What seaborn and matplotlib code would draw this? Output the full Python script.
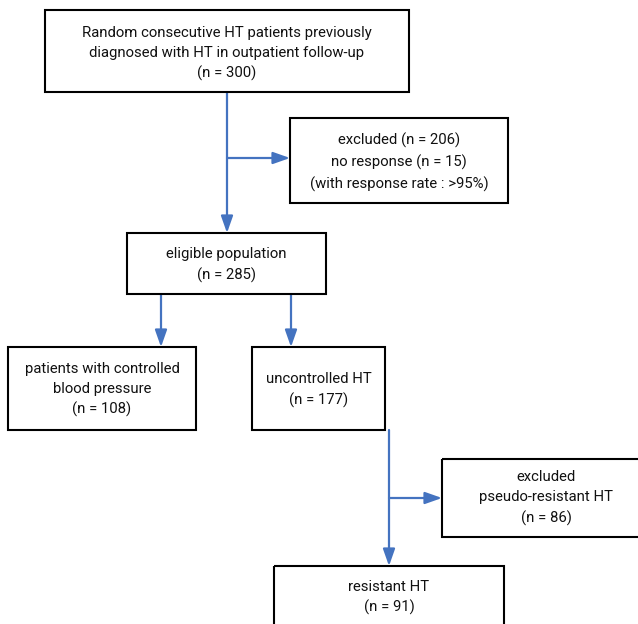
import matplotlib
matplotlib.use("Agg")
import matplotlib.pyplot as plt
import seaborn as sns
from matplotlib.patches import Rectangle

sns.set_theme(style="white")
plt.rcParams['font.family'] = ['Roboto', 'DejaVu Sans']

# ---- data ----
node_names = ["source", "excluded1", "eligible", "controlled", "uncontrolled", "excluded2", "resistant"]
node_texts = [
    "Random consecutive HT patients previously\ndiagnosed with HT in outpatient follow-up",
    "excluded (n = 206)\nno response (n = 15)\n(with response rate : >95%)",
    "eligible population",
    "patients with controlled\nblood pressure",
    "uncontrolled HT",
    "excluded\npseudo-resistant HT",
    "resistant HT",
]
node_counts = [300, None, 285, 108, 177, 86, 91]

# ---- layout (pixels, y downwards) ----
boxes = {
    "source":       (45, 10, 409, 92),
    "excluded1":    (290, 118, 508, 203),
    "eligible":     (127, 233, 326, 294),
    "controlled":   (8, 347, 196, 430),
    "uncontrolled": (252, 347, 385, 430),
    "excluded2":    (442, 459, 650, 537),
    "resistant":    (274, 566, 504, 640),
}
text_centers = {
    "source": 53.5, "excluded1": 162, "eligible": 265, "controlled": 389.5,
    "uncontrolled": 390, "excluded2": 498, "resistant": 597.5,
}

W, H = 638, 624
fig = plt.figure(figsize=(W / 100, H / 100), dpi=100)
ax = fig.add_axes([0, 0, 1, 1])
ax.set_xlim(0, W)
ax.set_ylim(H, 0)
ax.axis("off")

for name, txt, cnt in zip(node_names, node_texts, node_counts):
    x0, y0, x1, y1 = boxes[name]
    ax.add_patch(Rectangle((x0, y0), x1 - x0, y1 - y0, fill=False,
                           edgecolor="black", linewidth=1.5, zorder=2))
    label = txt if cnt is None else f"{txt}\n(n = {cnt})"
    ax.text((x0 + x1) / 2, text_centers[name], label, ha="center", va="center",
            fontsize=10.7, color="#111111", linespacing=1.55, zorder=3)

blue = "#4473C0"

def arrow(x0, y0, x1, y1):
    ax.annotate("", xy=(x1, y1), xytext=(x0, y0),
                arrowprops=dict(arrowstyle="-|>,head_length=0.85,head_width=0.3",
                                color=blue, lw=1.6, shrinkA=0, shrinkB=0),
                zorder=1)

# source -> eligible, branch to excluded1
arrow(227, 92, 227, 233)
arrow(227, 158, 290, 158)
# eligible -> controlled / uncontrolled
arrow(161, 294, 161, 347)
arrow(291, 294, 291, 347)
# uncontrolled -> resistant, branch to excluded2
arrow(389, 430, 389, 566)
arrow(389, 498, 442, 498)

fig.savefig("out.png", dpi=100)
